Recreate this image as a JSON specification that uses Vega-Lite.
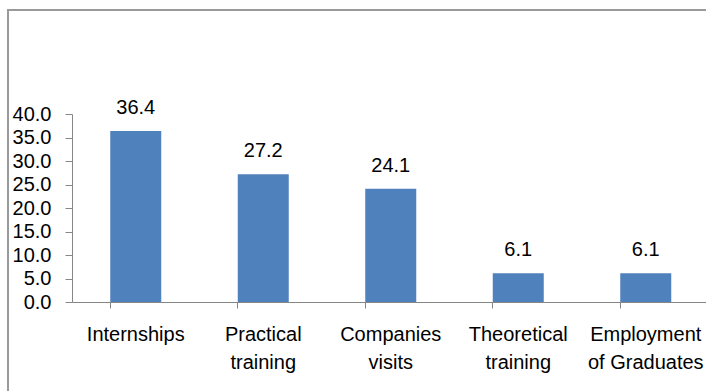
{
  "$schema": "https://vega.github.io/schema/vega-lite/v6.json",
  "autosize": {"type": "none"},
  "padding": {"left": 8, "top": 10, "right": -4, "bottom": -4},
  "width": 702,
  "height": 385,
  "background": "white",
  "config": {
    "view": {"stroke": "#9a9a9a", "strokeWidth": 2},
    "font": "Liberation Sans"
  },
  "data": {
    "values": [
      {"category": "Internships", "value": 36.4},
      {"category": "Practical training", "value": 27.2},
      {"category": "Companies visits", "value": 24.1},
      {"category": "Theoretical training", "value": 6.1},
      {"category": "Employment of Graduates", "value": 6.1}
    ]
  },
  "encoding": {
    "x": {
      "field": "category",
      "type": "nominal",
      "sort": null,
      "scale": {"range": [64, 701.5], "paddingInner": 0.6, "paddingOuter": 0.3},
      "axis": {
        "title": null,
        "orient": "bottom",
        "offset": -93,
        "labelAngle": 0,
        "bandPosition": 0,
        "tickSize": 6,
        "tickColor": "#868686",
        "domainColor": "#868686",
        "labelFontSize": 20,
        "labelColor": "#000000",
        "labelPadding": 16,
        "labelLineHeight": 28,
        "labelOverlap": false,
        "labelExpr": "datum.label == 'Internships' ? 'Internships' : datum.label == 'Employment of Graduates' ? ['Employment', 'of Graduates'] : split(datum.label, ' ')"
      }
    },
    "y": {
      "field": "value",
      "type": "quantitative",
      "scale": {"domain": [0, 40], "range": [292, 104]},
      "axis": {
        "title": null,
        "orient": "left",
        "offset": -64,
        "values": [0, 5, 10, 15, 20, 25, 30, 35, 40],
        "format": ".1f",
        "grid": false,
        "tickSize": 7,
        "tickColor": "#868686",
        "domainColor": "#868686",
        "labelFontSize": 20,
        "labelColor": "#000000",
        "labelPadding": 14,
        "labelOverlap": false
      }
    }
  },
  "layer": [
    {"mark": {"type": "bar", "color": "#4F81BD"}},
    {
      "mark": {"type": "text", "fontSize": 20, "color": "#000000", "baseline": "alphabetic", "dy": -17},
      "encoding": {"text": {"field": "value", "type": "quantitative", "format": ".1f"}}
    }
  ]
}
